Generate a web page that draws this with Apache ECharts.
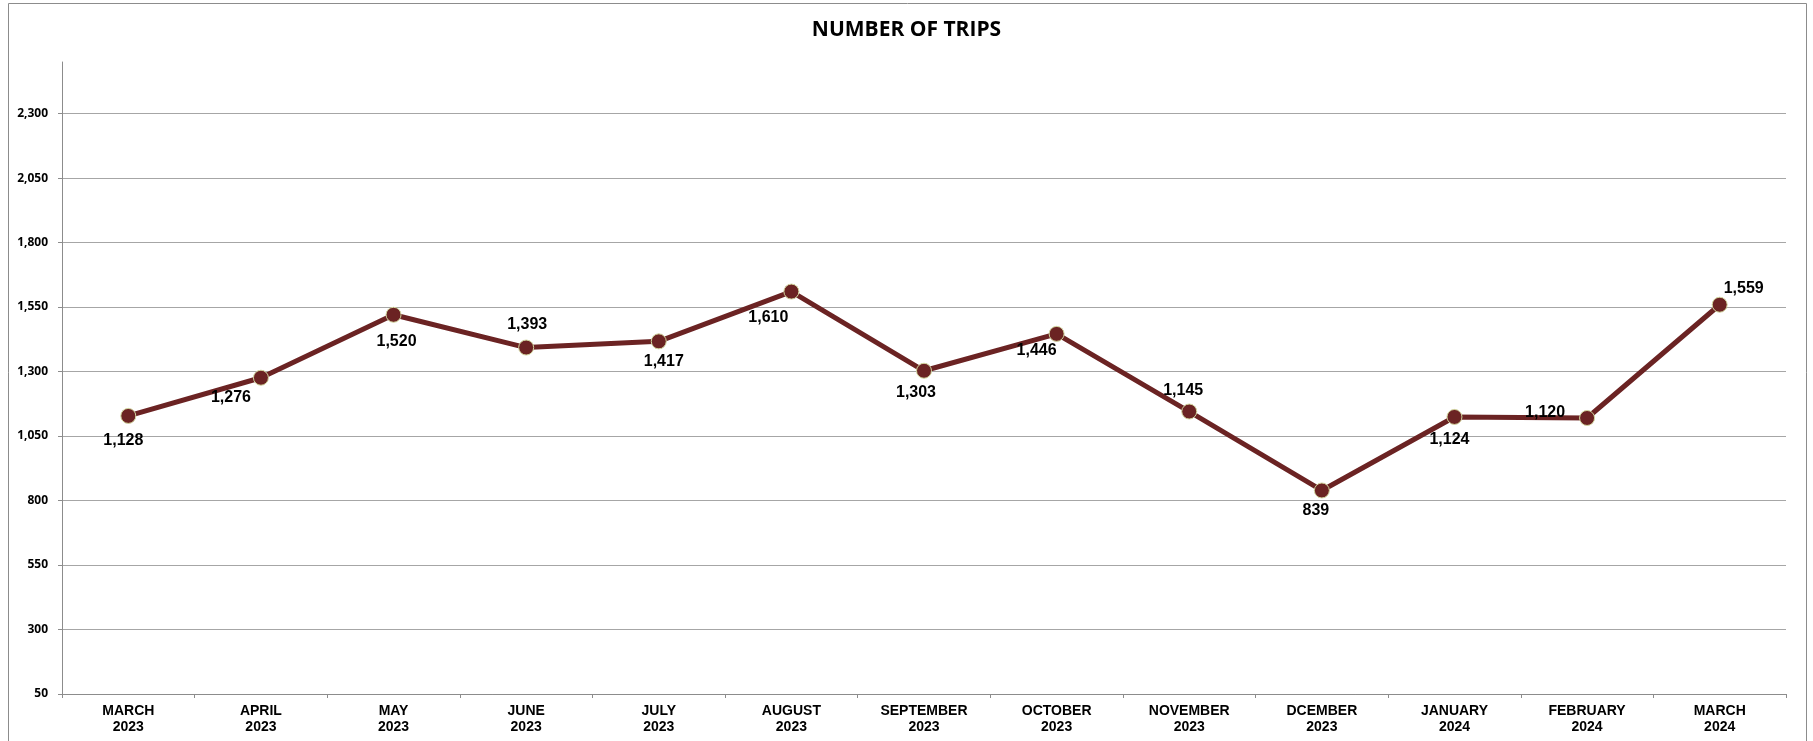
<!DOCTYPE html>
<html>
<head>
<meta charset="utf-8">
<title>Number of trips</title>
<script src="https://cdn.jsdelivr.net/npm/echarts@6/dist/echarts.min.js"></script>
<style>
  html, body { margin: 0; padding: 0; background: #fff; }
  #chart { width: 1813px; height: 741px; }
</style>
</head>
<body>
<div id="chart"></div>
<script>
// months shown on the x axis
const categories = [
  'MARCH\n2023', 'APRIL\n2023', 'MAY\n2023', 'JUNE\n2023', 'JULY\n2023',
  'AUGUST\n2023', 'SEPTEMBER\n2023', 'OCTOBER\n2023', 'NOVEMBER\n2023',
  'DCEMBER\n2023', 'JANUARY\n2024', 'FEBRUARY\n2024', 'MARCH\n2024'
]
// number of trips per month
const trips = [1128, 1276, 1520, 1393, 1417, 1610, 1303, 1446, 1145, 839, 1124, 1120, 1559]

// where each value label sits relative to its point (px)
const labelOffsets = [
  [-5, 25], [-30, 20], [3, 27], [1, -23], [5, 20], [-23, 26], [-8, 22],
  [-20, 17], [-6, -21], [-6, 20], [-5, 23], [-42, -5], [24, -16]
]

const fmt = v => Number(v).toLocaleString('en-US')

const myChart = echarts.init(document.getElementById('chart'))

const option = {
  animation: false,
  backgroundColor: '#fff',
  title: {
    text: 'NUMBER OF TRIPS',
    left: 'center',
    top: 15,
    textStyle: {
      fontFamily: 'Open Sans',
      fontWeight: 'bold',
      fontSize: 21,
      color: '#000'
    }
  },
  graphic: [{
    type: 'rect',
    shape: { x: 8.5, y: 3.5, width: 1798, height: 800 },
    style: { fill: 'none', stroke: '#8c8c8c', lineWidth: 1 },
    silent: true
  }],
  grid: {
    left: 62,
    right: 27,
    top: 62,
    bottom: 47,
    containLabel: false
  },
  xAxis: {
    type: 'category',
    data: categories,
    boundaryGap: true,
    axisLine: { lineStyle: { color: '#8c8c8c', width: 1 } },
    axisTick: { show: true, length: 4, lineStyle: { color: '#8c8c8c' } },
    axisLabel: {
      interval: 0,
      margin: 9,
      color: '#000',
      fontFamily: 'Liberation Sans',
      fontWeight: 'bold',
      fontSize: 14,
      lineHeight: 16
    },
    splitLine: { show: false }
  },
  yAxis: {
    type: 'value',
    min: 50,
    max: 2500,
    interval: 250,
    axisLine: { show: true, lineStyle: { color: '#8c8c8c', width: 1 } },
    axisTick: { show: true, length: 4, lineStyle: { color: '#8c8c8c' } },
    axisLabel: {
      margin: 14,
      color: '#000',
      fontFamily: 'Open Sans',
      fontWeight: 'bold',
      fontSize: 12,
      showMaxLabel: false,
      formatter: fmt
    },
    splitLine: {
      show: true,
      showMaxLine: false,
      lineStyle: { color: '#a6a6a6', width: 1 }
    }
  },
  series: [{
    type: 'line',
    data: trips,
    symbol: 'circle',
    symbolSize: 15,
    lineStyle: { color: '#6b2323', width: 5 },
    itemStyle: { color: '#6b2323', borderColor: '#d3d8a0', borderWidth: 1 },
    label: {
      show: true,
      position: 'inside',
      color: '#000',
      fontFamily: 'Liberation Sans',
      fontWeight: 'bold',
      fontSize: 16,
      formatter: p => fmt(p.value)
    },
    labelLayout: p => ({
      hideOverlap: false,
      dx: labelOffsets[p.dataIndex][0],
      dy: labelOffsets[p.dataIndex][1]
    }),
    z: 3
  }]
}

myChart.setOption(option)
</script>
</body>
</html>
